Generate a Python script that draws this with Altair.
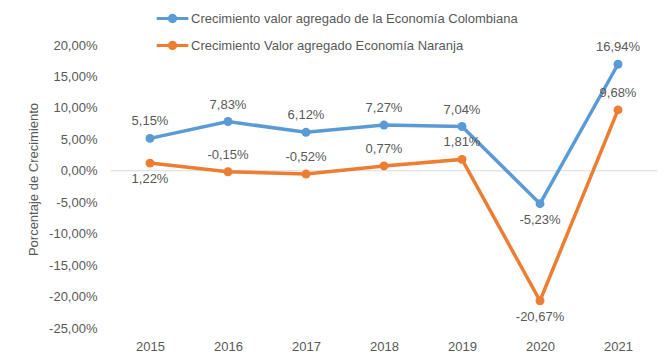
import altair as alt
import pandas as pd

years = ["2015", "2016", "2017", "2018", "2019", "2020", "2021"]
serie_col = "Crecimiento valor agregado de la Economía Colombiana"
serie_nar = "Crecimiento Valor agregado Economía Naranja"
col_values = [5.15, 7.83, 6.12, 7.27, 7.04, -5.23, 16.94]
nar_values = [1.22, -0.15, -0.52, 0.77, 1.81, -20.67, 9.68]
col_label_pos = ["above", "above", "above", "above", "above", "below", "above"]
nar_label_pos = ["below", "above", "above", "above", "above", "below", "above"]
y_ticks = [-25, -20, -15, -10, -5, 0, 5, 10, 15, 20]

BLUE = "#5b9bd5"
ORANGE = "#ed7d31"
TXT = "#595959"
FONT = "Liberation Sans"

rows = []
for y, v, p in zip(years, col_values, col_label_pos):
    rows.append({"year": y, "serie": serie_col, "value": v, "pos": p})
for y, v, p in zip(years, nar_values, nar_label_pos):
    rows.append({"year": y, "serie": serie_nar, "value": v, "pos": p})
df = pd.DataFrame(rows)

fmt = "(datum.value < 0 ? '-' : '') + replace(format(abs(datum.value), '.2f'), '.', ',') + '%'"

color = alt.Color(
    "serie:N",
    scale=alt.Scale(domain=[serie_col, serie_nar], range=[BLUE, ORANGE]),
    legend=alt.Legend(
        orient="none",
        legendX=44,
        legendY=-44,
        direction="vertical",
        title=None,
        symbolType="M-1,0L1,0M0.2,0A0.2,0.2,0,1,1,-0.2,0A0.2,0.2,0,1,1,0.2,0",
        symbolSize=1000,
        symbolStrokeWidth=3,
        labelFontSize=13,
        labelFont=FONT,
        labelColor=TXT,
        labelOffset=1,
        rowPadding=-5,
        labelLimit=500,
    ),
)

x = alt.X(
    "year:O",
    sort=years,
    axis=alt.Axis(
        labelAngle=0, domain=False, ticks=False, title=None,
        labelFontSize=13, labelFont=FONT, labelColor=TXT, labelPadding=12,
    ),
)
yscale = alt.Scale(domain=[-25, 20], nice=False, zero=False)
y = alt.Y(
    "value:Q",
    scale=yscale,
    axis=alt.Axis(
        values=y_ticks, grid=False, domain=False, ticks=False, labelOverlap=False,
        labelExpr=fmt, labelFontSize=13, labelFont=FONT, labelColor=TXT, labelPadding=14,
        title="Porcentaje de Crecimiento", titleFontWeight="normal", titleFontSize=13,
        titleFont=FONT, titleColor=TXT, titleX=-78, titleY=134, titleAngle=270,
        titleAlign="center", titleBaseline="middle",
    ),
)

base = alt.Chart(df)
zero = alt.Chart(pd.DataFrame({"value": [0]})).mark_rule(color="#d9d9d9", strokeWidth=1).encode(y=y)
lines = base.mark_line(strokeWidth=3.5).encode(x=x, y=y, color=color)
points = base.mark_point(filled=True, size=80, opacity=1).encode(x=x, y=y, color=color)

lab = base.transform_calculate(label=fmt)
text_above = lab.transform_filter("datum.pos == 'above'").mark_text(
    dy=-17, fontSize=13, font=FONT, color=TXT, baseline="middle"
).encode(x=x, y=y, text="label:N")
text_below = lab.transform_filter("datum.pos == 'below'").mark_text(
    dy=16, fontSize=13, font=FONT, color=TXT, baseline="middle"
).encode(x=x, y=y, text="label:N")

chart = alt.layer(zero, lines, points, text_above, text_below).properties(
    width=546,
    height=283,
    autosize=alt.AutoSizeParams(type="none"),
    padding={"left": 103, "top": 37, "right": 4, "bottom": 28},
).configure_view(stroke=None)

chart.save("out.html", embed_options={"renderer": "svg", "actions": False})
